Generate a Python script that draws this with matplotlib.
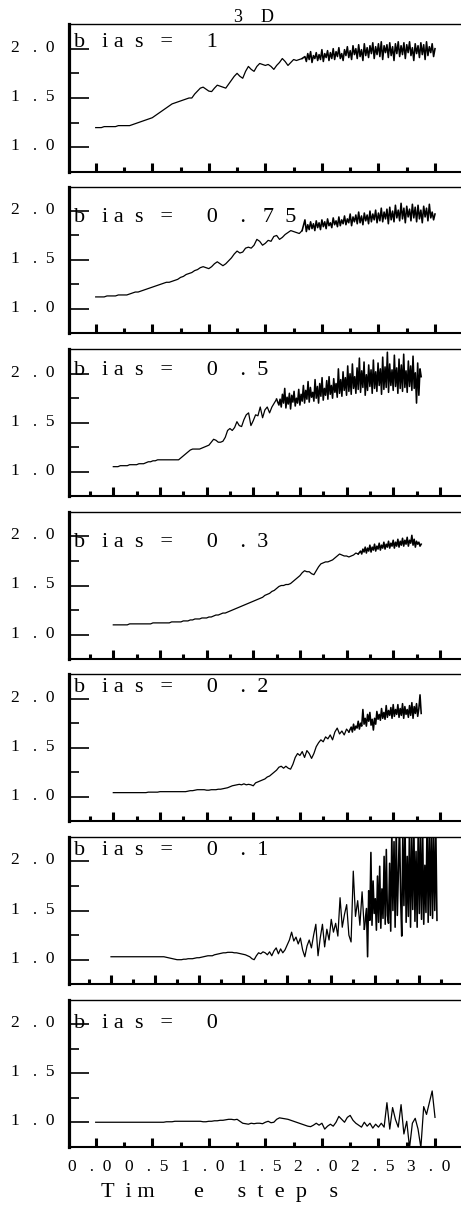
import numpy as np
import matplotlib
matplotlib.use("Agg")
import matplotlib.pyplot as plt
from matplotlib.ticker import FixedLocator, MultipleLocator, FuncFormatter, NullFormatter
from matplotlib.transforms import ScaledTranslation

plt.rcParams["font.family"] = ["Liberation Serif", "DejaVu Serif"]

W, H, DPI = 461, 1213, 100
STEP = 0.025   # sampling of the smooth start of each curve (time units)
FINE = 0.0125  # sampling of the noisy tail that follows it

# panel captions, top to bottom (letter-spaced as in the original)
bias_labels = [
    "b   i a  s   =      1",
    "b   i a  s   =      0    .   7  5",
    "b   i a  s   =      0    .  5",
    "b   i a  s   =      0    .  3",
    "b   i a  s   =      0    .  2",
    "b   i a  s   =      0    .  1",
    "b   i a  s   =      0",
]
title_text = "3    D"
xlabel_text = "T  i m       e      s  t  e  p    s"

y_ticks = [1.0, 1.5, 2.0]
y_minor = [1.25, 1.75]

# curves: smooth part every STEP, then noisy tail every FINE
y_bias1 = [
    1.20, 1.20, 1.20, 1.21, 1.21, 1.21, 1.21, 1.21, 1.22, 1.22, 1.22, 1.22, 1.22, 1.23, 1.24, 1.25, 1.26, 1.27, 1.28, 1.29,
    1.30, 1.32, 1.34, 1.36, 1.38, 1.40, 1.42, 1.44, 1.45, 1.46, 1.47, 1.48, 1.49, 1.50, 1.50, 1.54, 1.57, 1.60, 1.61, 1.59,
    1.57, 1.565, 1.60, 1.63, 1.62, 1.61, 1.60, 1.64, 1.68, 1.72, 1.75, 1.72, 1.70, 1.77, 1.82, 1.79, 1.77, 1.82, 1.85, 1.84,
    1.83, 1.84, 1.82, 1.79, 1.83, 1.86, 1.90, 1.87, 1.83, 1.86, 1.89, 1.88, 1.89, 1.90,
]
n_bias1 = [
    1.92, 1.87, 1.95, 1.89, 1.97, 1.86, 1.93, 1.90, 1.96, 1.88, 1.94, 1.89, 1.99, 1.87, 1.95, 1.91, 1.98, 1.88, 1.96, 1.90,
    2.00, 1.89, 1.97, 1.92, 2.01, 1.90, 1.95, 1.88, 1.99, 1.93, 2.02, 1.91, 1.98, 1.89, 2.03, 1.94, 2.00, 1.90, 2.04, 1.92,
    1.99, 1.88, 2.05, 1.93, 2.01, 1.91, 2.03, 1.95, 2.06, 1.90, 2.02, 1.94, 2.05, 1.92, 2.07, 1.89, 2.03, 1.96, 2.04, 1.91,
    2.06, 1.93, 2.02, 1.88, 2.05, 1.95, 2.07, 1.92, 2.03, 1.94, 2.06, 1.90, 2.04, 1.96, 2.07, 1.93, 2.01, 1.88, 2.05, 1.95,
    2.03, 1.91, 2.06, 1.94, 2.04, 1.89, 2.07, 1.93, 2.02, 1.96, 2.05, 1.92, 2.00,
]
y_bias075 = [
    1.12, 1.12, 1.12, 1.12, 1.13, 1.13, 1.13, 1.13, 1.14, 1.14, 1.14, 1.14, 1.15, 1.16, 1.17, 1.17, 1.18, 1.19, 1.20, 1.21,
    1.22, 1.23, 1.24, 1.25, 1.26, 1.27, 1.27, 1.28, 1.29, 1.30, 1.32, 1.33, 1.35, 1.36, 1.37, 1.39, 1.40, 1.42, 1.43, 1.42,
    1.41, 1.43, 1.46, 1.48, 1.46, 1.44, 1.46, 1.49, 1.52, 1.56, 1.59, 1.57, 1.58, 1.62, 1.63, 1.62, 1.65, 1.71, 1.69, 1.65,
    1.67, 1.70, 1.69, 1.74, 1.75, 1.71, 1.73, 1.76, 1.78, 1.80, 1.79, 1.78, 1.77, 1.80,
]
n_bias075 = [
    1.91, 1.79, 1.86, 1.81, 1.89, 1.82, 1.87, 1.80, 1.90, 1.83, 1.88, 1.81, 1.91, 1.84, 1.89, 1.82, 1.92, 1.85, 1.88, 1.83,
    1.93, 1.86, 1.90, 1.84, 1.94, 1.85, 1.91, 1.87, 1.95, 1.86, 1.92, 1.88, 1.97, 1.85, 1.94, 1.89, 1.96, 1.87, 1.99, 1.88,
    1.95, 1.86, 1.98, 1.90, 1.96, 1.87, 2.00, 1.89, 1.97, 1.91, 2.01, 1.88, 1.98, 1.90, 2.03, 1.89, 1.99, 1.92, 2.02, 1.87,
    2.04, 1.91, 2.00, 1.89, 2.06, 1.93, 2.01, 1.90, 2.08, 1.92, 2.03, 1.88, 2.05, 1.94, 2.02, 1.90, 2.07, 1.93, 2.04, 1.89,
    2.06, 1.92, 2.01, 1.88, 2.05, 1.94, 2.03, 1.90, 2.07, 1.93, 1.99, 1.91, 1.97,
]
y_bias05 = [
    1.05, 1.05, 1.05, 1.06, 1.06, 1.06, 1.06, 1.07, 1.07, 1.07, 1.07, 1.08, 1.08, 1.08, 1.09, 1.10, 1.10, 1.11, 1.11, 1.12,
    1.12, 1.12, 1.12, 1.12, 1.12, 1.12, 1.12, 1.12, 1.12, 1.14, 1.16, 1.18, 1.20, 1.22, 1.23, 1.23, 1.23, 1.23, 1.24, 1.25,
    1.26, 1.27, 1.30, 1.33, 1.32, 1.30, 1.30, 1.31, 1.35, 1.42, 1.44, 1.42, 1.45, 1.51, 1.47, 1.46, 1.53, 1.58, 1.60, 1.47,
    1.52, 1.58, 1.57, 1.66, 1.55, 1.63, 1.66, 1.60, 1.66, 1.70, 1.74,
]
n_bias05 = [
    1.68, 1.74, 1.66, 1.79, 1.70, 1.85, 1.65, 1.76, 1.69, 1.80, 1.64, 1.78, 1.71, 1.82, 1.67, 1.75, 1.70, 1.84, 1.68, 1.79,
    1.72, 1.88, 1.70, 1.83, 1.74, 1.92, 1.71, 1.86, 1.76, 1.81, 1.72, 1.94, 1.75, 1.87, 1.70, 1.90, 1.77, 1.96, 1.73, 1.85,
    1.78, 1.93, 1.74, 1.97, 1.79, 1.88, 1.75, 1.95, 1.81, 1.90, 1.76, 2.05, 1.80, 1.94, 1.77, 2.02, 1.83, 1.96, 1.78, 2.08,
    1.82, 2.00, 1.79, 2.10, 1.85, 1.97, 1.80, 2.06, 1.84, 2.16, 1.81, 2.03, 1.86, 2.12, 1.78, 1.99, 1.83, 2.09, 1.87, 2.04,
    1.80, 2.14, 1.85, 2.02, 1.82, 2.11, 1.88, 2.05, 1.79, 2.17, 1.84, 2.07, 1.86, 2.22, 1.81, 2.10, 1.88, 2.04, 1.83, 2.19,
    1.87, 2.06, 1.80, 2.15, 1.85, 2.09, 1.82, 2.20, 1.86, 2.03, 1.81, 2.13, 1.87, 2.08, 1.83, 2.18, 1.85, 2.01, 1.70, 2.11,
    1.78, 2.05, 1.97,
]
y_bias03 = [
    1.10, 1.10, 1.10, 1.10, 1.10, 1.10, 1.10, 1.11, 1.11, 1.11, 1.11, 1.11, 1.11, 1.11, 1.11, 1.11, 1.11, 1.12, 1.12, 1.12,
    1.12, 1.12, 1.12, 1.12, 1.12, 1.13, 1.13, 1.13, 1.13, 1.13, 1.14, 1.14, 1.14, 1.15, 1.15, 1.16, 1.16, 1.16, 1.17, 1.17,
    1.17, 1.18, 1.18, 1.19, 1.20, 1.20, 1.21, 1.22, 1.22, 1.23, 1.24, 1.25, 1.26, 1.27, 1.28, 1.29, 1.30, 1.31, 1.32, 1.33,
    1.34, 1.35, 1.36, 1.37, 1.38, 1.40, 1.41, 1.42, 1.44, 1.45, 1.47, 1.49, 1.50, 1.50, 1.51, 1.51, 1.52, 1.54, 1.56, 1.58,
    1.60, 1.63, 1.65, 1.64, 1.64, 1.62, 1.61, 1.65, 1.69, 1.72, 1.73, 1.74, 1.74, 1.75, 1.76, 1.78, 1.80, 1.82, 1.81, 1.80,
    1.80, 1.79, 1.80, 1.81, 1.83, 1.82,
]
n_bias03 = [
    1.85, 1.82, 1.87, 1.84, 1.89, 1.83, 1.88, 1.85, 1.91, 1.84, 1.89, 1.86, 1.92, 1.85, 1.90, 1.87, 1.93, 1.86, 1.91, 1.88,
    1.94, 1.87, 1.92, 1.89, 1.95, 1.88, 1.93, 1.90, 1.96, 1.88, 1.94, 1.90, 1.97, 1.89, 1.95, 1.91, 1.98, 1.90, 1.96, 1.92,
    1.99, 1.90, 1.96, 1.93, 2.01, 1.91, 1.97, 1.89, 1.95, 1.92, 1.94, 1.90, 1.92,
]
y_bias02 = [
    1.04, 1.04, 1.04, 1.04, 1.04, 1.04, 1.04, 1.04, 1.04, 1.04, 1.04, 1.04, 1.04, 1.04, 1.04, 1.045, 1.045, 1.045, 1.045, 1.045,
    1.05, 1.05, 1.05, 1.05, 1.05, 1.05, 1.05, 1.05, 1.05, 1.05, 1.05, 1.05, 1.055, 1.06, 1.06, 1.065, 1.07, 1.07, 1.07, 1.07,
    1.065, 1.065, 1.07, 1.07, 1.07, 1.075, 1.075, 1.08, 1.085, 1.09, 1.10, 1.11, 1.115, 1.12, 1.125, 1.12, 1.13, 1.12, 1.125, 1.12,
    1.11, 1.14, 1.15, 1.16, 1.17, 1.18, 1.20, 1.21, 1.23, 1.25, 1.27, 1.30, 1.31, 1.29, 1.31, 1.29, 1.28, 1.33, 1.40, 1.44,
    1.42, 1.46, 1.40, 1.47, 1.44, 1.39, 1.44, 1.51, 1.55, 1.58, 1.56, 1.61, 1.59, 1.63, 1.58, 1.66, 1.70, 1.64, 1.67, 1.63,
    1.69, 1.66,
]
n_bias02 = [
    1.71, 1.66, 1.74, 1.68, 1.72, 1.70, 1.77, 1.69, 1.75, 1.72, 1.89, 1.74, 1.80, 1.72, 1.84, 1.77, 1.86, 1.73, 1.79, 1.68,
    1.80, 1.74, 1.87, 1.79, 1.84, 1.78, 1.90, 1.80, 1.86, 1.79, 1.93, 1.81, 1.88, 1.83, 1.91, 1.80, 1.94, 1.82, 1.89, 1.84,
    1.94, 1.81, 1.90, 1.83, 1.95, 1.80, 1.92, 1.84, 1.89, 1.81, 1.93, 1.83, 1.96, 1.80, 1.92, 1.85, 1.95, 1.82, 1.90, 2.04,
    1.85,
]
y_bias01 = [
    1.03, 1.03, 1.03, 1.03, 1.03, 1.03, 1.03, 1.03, 1.03, 1.03, 1.03, 1.03, 1.03, 1.03, 1.03, 1.03, 1.03, 1.03, 1.03, 1.03,
    1.03, 1.03, 1.03, 1.03, 1.03, 1.025, 1.02, 1.015, 1.01, 1.005, 1.00, 1.00, 1.00, 1.005, 1.005, 1.01, 1.01, 1.01, 1.015, 1.02,
    1.02, 1.025, 1.03, 1.035, 1.04, 1.04, 1.04, 1.05, 1.055, 1.06, 1.065, 1.07, 1.07, 1.075, 1.075, 1.075, 1.07, 1.07, 1.065, 1.06,
    1.055, 1.05, 1.04, 1.03, 1.01, 1.00, 1.04, 1.07, 1.06, 1.08, 1.07, 1.05, 1.08, 1.04, 1.09, 1.12, 1.06, 1.11, 1.07, 1.10,
    1.15, 1.20, 1.28, 1.19, 1.23, 1.16, 1.22, 1.10, 1.03, 1.14, 1.20, 1.12, 1.25, 1.36, 1.04, 1.22, 1.36, 1.13, 1.31, 1.20,
    1.41, 1.28, 1.37, 1.24, 1.63, 1.33, 1.46, 1.56, 1.25, 1.18, 1.90, 1.44, 1.60, 1.35, 1.69, 1.31,
]
n_bias01 = [
    1.52, 1.03, 1.70, 1.40, 2.09, 1.35, 1.80, 1.47, 1.62, 1.30, 1.85, 1.38, 1.95, 1.32, 1.72, 1.42, 2.05, 1.36, 2.12, 1.45,
    1.37, 1.98, 1.29, 2.30, 1.50, 2.20, 1.33, 2.35, 1.45, 1.90, 2.40, 1.62, 1.24, 2.30, 1.55, 2.38, 1.38, 2.05, 1.44, 2.32,
    1.33, 2.25, 1.51, 2.40, 1.39, 2.10, 1.33, 2.36, 1.47, 2.28, 1.41, 2.34, 1.36, 1.96, 1.48, 2.40, 1.38, 2.30, 1.45, 2.38,
    1.42, 2.33, 1.50, 2.30, 1.40,
]
y_bias0 = [
    1.00, 1.00, 1.00, 1.00, 1.00, 1.00, 1.00, 1.00, 1.00, 1.00, 1.00, 1.00, 1.00, 1.00, 1.00, 1.00, 1.00, 1.00, 1.00, 1.00,
    1.00, 1.00, 1.00, 1.00, 1.00, 1.005, 1.005, 1.005, 1.01, 1.01, 1.01, 1.01, 1.01, 1.01, 1.01, 1.01, 1.01, 1.01, 1.005, 1.005,
    1.01, 1.01, 1.015, 1.015, 1.02, 1.02, 1.025, 1.03, 1.03, 1.025, 1.03, 1.01, 0.99, 0.985, 0.98, 0.99, 0.985, 0.99, 0.99, 0.985,
    1.00, 1.01, 0.995, 1.00, 1.03, 1.045, 1.04, 1.035, 1.03, 1.02, 1.01, 1.00, 0.99, 0.98, 0.97, 0.96, 0.955, 0.97, 0.99, 0.97,
    0.99, 0.93, 0.96, 0.98, 0.96, 1.00, 1.06, 1.03, 1.00, 1.05, 1.07, 1.02, 0.99, 0.97, 0.95, 1.00, 0.96, 0.99, 0.94, 0.98,
    0.95, 0.99, 0.95, 1.20, 0.93, 1.15, 1.03, 0.95, 1.18, 0.88, 1.01, 0.74, 0.99, 1.04, 0.93, 0.74, 1.16, 1.08, 1.20, 1.32,
    1.05,
]
n_bias0 = []

curves = [(y_bias1, n_bias1), (y_bias075, n_bias075), (y_bias05, n_bias05),
          (y_bias03, n_bias03), (y_bias02, n_bias02), (y_bias01, n_bias01),
          (y_bias0, n_bias0)]

# layout measured on the reference, in pixels
AX_LEFT = 68.5
panel_rows = [(24, 172), (186.7, 333), (349.3, 496), (511.7, 659.3),
              (674.3, 821), (836.7, 984.3), (1000, 1146.7)]
# pixel of t=0 and pixels per time unit, per panel
x_scale = [(95.7, 113.1), (95.7, 113.1), (113.3, 93.3), (113.3, 93.3),
           (113.3, 93.3), (111.0, 88.1), (95.7, 113.1)]
label_baseline = [46.7, 221.7, 375, 546.7, 691.7, 855, 1028.3]


def fx(px):
    return px / W


def fy(py):
    return 1 - py / H


def spaced(v, pos=None):
    if abs(v) < 1e-9:
        v = 0.0
    a, b = f"{v:.1f}".split(".")
    return f"{a}   .  {b}"


fig = plt.figure(figsize=(W / DPI, H / DPI), dpi=DPI)
up = ScaledTranslation(0, 3 / DPI, fig.dpi_scale_trans)
left = ScaledTranslation(-6 / DPI, 0, fig.dpi_scale_trans)

n = len(curves)
for i, (smooth, noisy) in enumerate(curves):
    top, bot = panel_rows[i]
    x0, ppu = x_scale[i]
    ax = fig.add_axes([fx(AX_LEFT), fy(bot), fx(W - AX_LEFT), (bot - top) / H])
    t_s = np.arange(len(smooth)) * STEP
    ax.plot(t_s, smooth, color="black", lw=0.9)
    if noisy:
        # the jittery tail, joined to the last smooth sample
        t_n = len(smooth) * STEP + np.arange(len(noisy)) * FINE
        ax.plot(np.r_[t_s[-1], t_n], [smooth[-1]] + noisy, color="black", lw=1.15)
    ax.set_xlim((AX_LEFT - x0) / ppu, (W - x0) / ppu)
    ax.set_ylim(0.75, 2.25)

    ax.spines["right"].set_visible(False)
    ax.spines["left"].set_linewidth(2.3)
    ax.spines["bottom"].set_linewidth(1.5)
    ax.spines["top"].set_linewidth(1.0)

    ax.yaxis.set_major_locator(FixedLocator(y_ticks))
    ax.yaxis.set_minor_locator(FixedLocator(y_minor))
    ax.yaxis.set_major_formatter(FuncFormatter(spaced))
    ax.xaxis.set_major_locator(MultipleLocator(0.5))
    ax.xaxis.set_minor_locator(MultipleLocator(0.25))
    ax.tick_params(axis="y", which="major", direction="in", length=14.6, width=1.2,
                   pad=10.4, labelsize=12.5, right=False)
    ax.tick_params(axis="y", which="minor", direction="in", length=7.2, width=1.2, right=False)
    ax.tick_params(axis="x", which="major", direction="in", length=6.5, width=2.2,
                   pad=9, labelsize=12.5, top=False)
    ax.tick_params(axis="x", which="minor", direction="in", length=3.4, width=2.2, top=False)

    if i == n - 1:
        ax.xaxis.set_major_formatter(FuncFormatter(spaced))
        for lab in ax.get_xticklabels():
            lab.set_transform(lab.get_transform() + left)
    else:
        ax.xaxis.set_major_formatter(NullFormatter())
    for lab in ax.get_yticklabels():
        lab.set_transform(lab.get_transform() + up)

    fig.text(fx(73.7), fy(label_baseline[i]), bias_labels[i], fontsize=16,
             ha="left", va="baseline")

fig.text(fx(234.5), fy(22.5), title_text, fontsize=13, ha="left", va="baseline")
fig.text(fx(101), fy(1196.7), xlabel_text, fontsize=16, ha="left", va="baseline")

fig.savefig("out.png", dpi=DPI)
